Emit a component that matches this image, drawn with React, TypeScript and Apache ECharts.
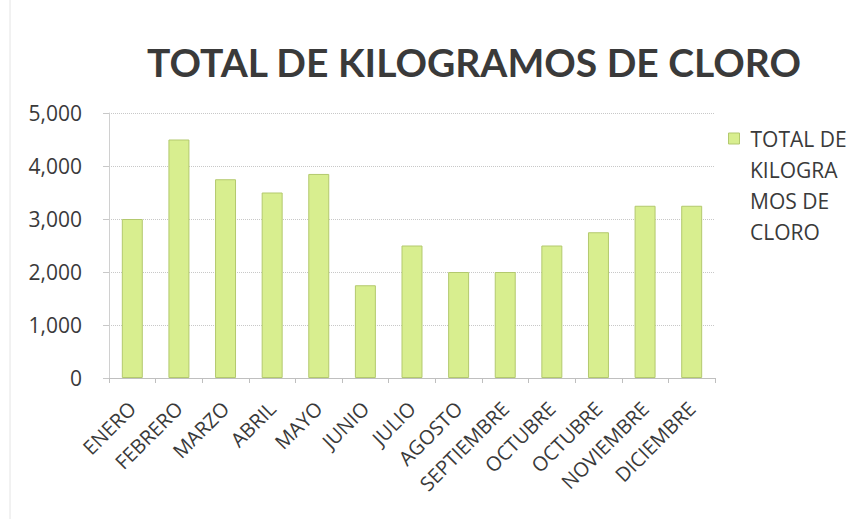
import React, { useEffect, useRef } from "react";
import * as echarts from "echarts";

const categories = ["ENERO", "FEBRERO", "MARZO", "ABRIL", "MAYO", "JUNIO", "JULIO", "AGOSTO", "SEPTIEMBRE", "OCTUBRE", "OCTUBRE", "NOVIEMBRE", "DICIEMBRE"];
const values = [3000, 4500, 3750, 3500, 3850, 1750, 2500, 2000, 2000, 2500, 2750, 3250, 3250];
const seriesName = "TOTAL DE KILOGRAMOS DE CLORO";
const legendLines = ["TOTAL DE", "KILOGRA", "MOS DE", "CLORO"];
const titleText = "TOTAL DE KILOGRAMOS DE CLORO";

export default function App() {
  const ref = useRef<HTMLDivElement>(null);
  useEffect(() => {
    document.body.style.margin = "0";
    const chart = echarts.init(ref.current!, null, { renderer: "svg" });
    const legendFont = { fontFamily: "Open Sans", fontSize: 21, fill: "#3a3a3a" };
    chart.setOption({
      animation: false,
      backgroundColor: "#ffffff",
      textStyle: { fontFamily: "Open Sans" },
      title: {
        text: titleText,
        left: 142,
        top: 37,
        textStyle: { fontFamily: "Lato", fontWeight: "bold", fontSize: 39, color: "#3a3a3a" },
      },
      legend: {
        show: true,
        left: 723,
        top: 118,
        itemWidth: 11,
        itemHeight: 11,
        icon: "rect",
        itemStyle: { borderColor: "#b3c96e", borderWidth: 1 },
        formatter: () => legendLines[0],
        textStyle: { fontFamily: "Open Sans", fontSize: 21, color: "#3a3a3a", lineHeight: 31, padding: [0, 0, 0, 6] },
      },
      grid: { left: 109, right: 131, top: 113, bottom: 141 },
      xAxis: {
        type: "category",
        data: categories,
        axisLine: { lineStyle: { color: "#bfbfbf" } },
        axisTick: { show: true, length: 5, lineStyle: { color: "#bfbfbf" } },
        axisLabel: { rotate: 45, interval: 0, fontFamily: "Open Sans", fontSize: 20, color: "#3a3a3a", margin: 27 },
      },
      yAxis: {
        type: "value",
        min: 0,
        max: 5000,
        interval: 1000,
        axisLine: { show: true, lineStyle: { color: "#d0d0d0" } },
        axisTick: { show: true, length: 6, lineStyle: { color: "#c8c8c8" } },
        splitLine: { lineStyle: { color: "#c8c8c8", type: "dotted" } },
        axisLabel: {
          fontFamily: "Open Sans",
          fontSize: 21,
          color: "#3a3a3a",
          margin: 27,
          formatter: (v: number) => v.toLocaleString("en-US"),
        },
      },
      series: [
        {
          name: seriesName,
          type: "bar",
          data: values,
          barWidth: "45%",
          itemStyle: { color: "#d8ee8f", borderColor: "#b3c96e", borderWidth: 1 },
        },
      ],
      graphic: [
        { type: "line", shape: { x1: 10, y1: 0, x2: 10, y2: 519 }, style: { stroke: "#e4e4e4", lineWidth: 1 } },
        ...legendLines.slice(1).map((t, i) => ({
          type: "text",
          left: 750,
          top: 170 + i * 31 - 15,
          style: { ...legendFont, text: t, lineHeight: 30 },
        })),
      ],
    });
    return () => chart.dispose();
  }, []);
  return <div ref={ref} style={{ width: 846, height: 519 }} />;
}
